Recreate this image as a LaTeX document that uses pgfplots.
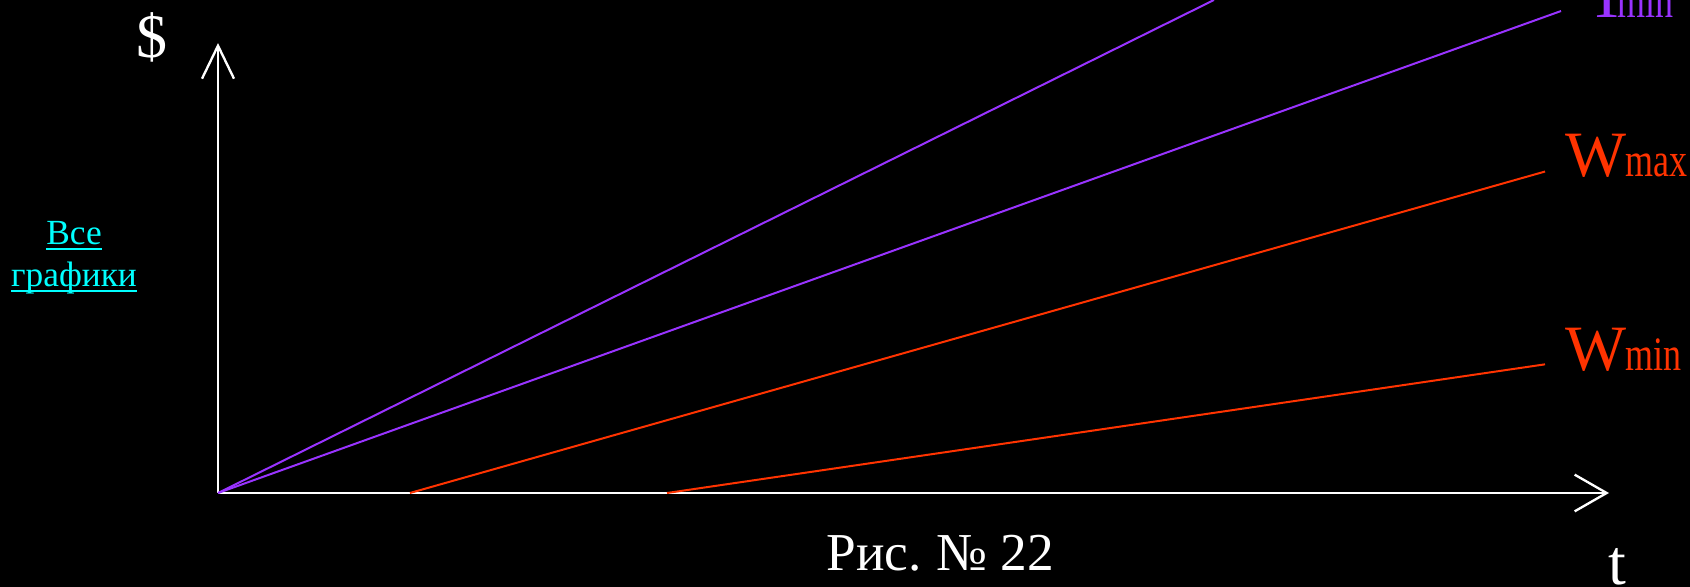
\documentclass[border=0pt]{standalone}
\usepackage{pgfplots}
\pgfplotsset{compat=1.18}
\usepackage{graphicx}
\usepackage{fontspec}
\setmainfont{Liberation Serif}
\usetikzlibrary{arrows.meta}
\definecolor{tpurple}{HTML}{9933FF}
\definecolor{wred}{HTML}{FF3300}
\definecolor{lcyan}{HTML}{00FFFF}
\newcommand\ulx[1]{\sbox0{#1}\rlap{\rule[-1.6bp]{\wd0}{0.8bp}}\usebox0}
\newcommand\sub[1]{\scalebox{0.75}[1]{#1}}
\begin{document}
\begin{tikzpicture}
\begin{axis}[
  scale only axis, width=507bp, height=176.1bp,
  xmin=-1.5672, xmax=10.5823, ymin=-0.6758, ymax=3.5442,
  hide axis, clip=false,
]
\fill[black] (-1.5672,-0.6758) rectangle (10.5823,3.5442);
% axes
\draw[white, line width=0.7bp, -{Straight Barb[length=9.9bp,width=9.6bp]}] (0,0) -- (0,3.235);
\draw[white, line width=0.7bp, -{Straight Barb[length=9.6bp,width=11bp]}] (0,0) -- (10.0,0);
% T lines
\addplot[tpurple, line width=0.6bp] coordinates {(0,0) (7.160,3.5442)};
\addplot[tpurple, line width=0.6bp] coordinates {(0,0) (9.655,3.465)};
% W lines
\addplot[wred, line width=0.6bp] coordinates {(1.380,0) (9.540,2.311)};
\addplot[wred, line width=0.6bp] coordinates {(3.228,0) (9.540,0.925)};
% labels
\node[anchor=base west, inner sep=0, text=tpurple, font=\fontsize{19.4bp}{23bp}\selectfont] at (9.842,3.422) {T};
\node[anchor=base west, inner sep=0, text=tpurple, font=\fontsize{14.4bp}{17bp}\selectfont] at (10.058,3.422) {\sub{min}};
\node[anchor=base west, inner sep=0, text=wred, font=\fontsize{19.4bp}{23bp}\selectfont] at (9.684,2.272) {W};
\node[anchor=base west, inner sep=0, text=wred, font=\fontsize{14.4bp}{17bp}\selectfont] at (10.115,2.272) {\sub{max}};
\node[anchor=base west, inner sep=0, text=wred, font=\fontsize{19.4bp}{23bp}\selectfont] at (9.684,0.884) {W};
\node[anchor=base west, inner sep=0, text=wred, font=\fontsize{14.4bp}{17bp}\selectfont] at (10.115,0.884) {\sub{min}};
\node[anchor=base, inner sep=0, text=white, font=\fontsize{18.6bp}{22bp}\selectfont] at (-0.474,3.130) {\$};
\node[anchor=base west, inner sep=0, text=white, font=\fontsize{19.2bp}{23bp}\selectfont] at (9.995,-0.661) {t};
\node[anchor=base west, inner sep=0, text=white, font=\fontsize{16bp}{19bp}\selectfont] at (4.371,-0.554) {Рис. \kern-1bp№ 22};
\node[anchor=base, inner sep=0, text=lcyan, font=\fontsize{10.6bp}{13bp}\selectfont] at (-1.035,1.783) {\ulx{Все}};
\node[anchor=base, inner sep=0, text=lcyan, font=\fontsize{10.6bp}{13bp}\selectfont] at (-1.035,1.481) {\ulx{графики}};
\end{axis}
\pgfresetboundingbox
\path[use as bounding box] (current axis.south west) rectangle (current axis.north east);
\end{tikzpicture}
\end{document}
